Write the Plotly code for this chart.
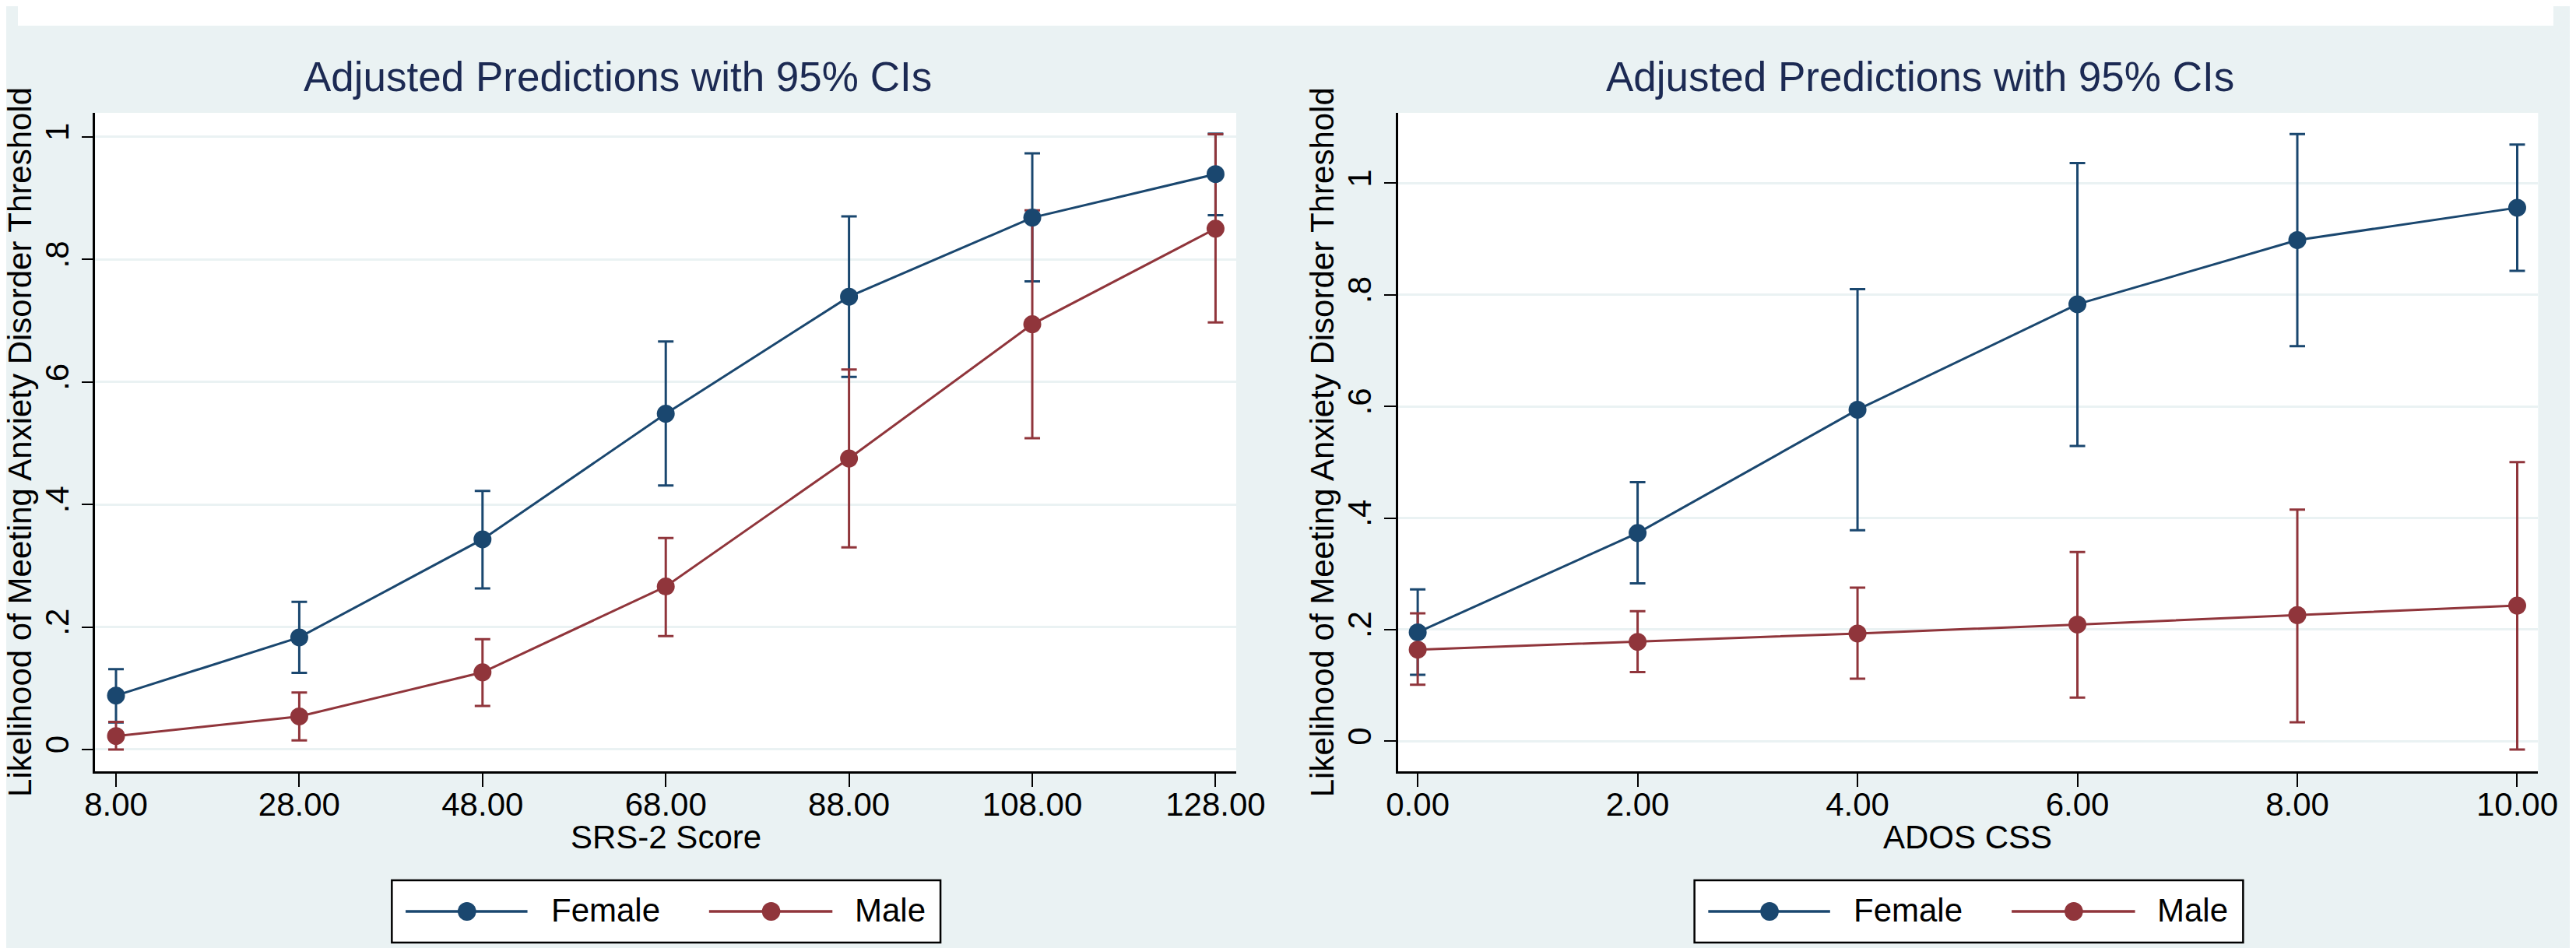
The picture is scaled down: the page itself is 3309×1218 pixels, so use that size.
import plotly.graph_objects as go

# ---------------- data ----------------
srs_x = [8, 28, 48, 68, 88, 108, 128]
srs_ticktext = ["8.00", "28.00", "48.00", "68.00", "88.00", "108.00", "128.00"]
srs_female = [0.088, 0.183, 0.343, 0.548, 0.739, 0.868, 0.939]
srs_female_lo = [0.044, 0.125, 0.263, 0.431, 0.608, 0.764, 0.872]
srs_female_hi = [0.131, 0.241, 0.422, 0.666, 0.870, 0.973, 1.005]
srs_male = [0.022, 0.054, 0.126, 0.266, 0.475, 0.694, 0.850]
srs_male_lo = [0.000, 0.015, 0.071, 0.185, 0.330, 0.508, 0.697]
srs_male_hi = [0.045, 0.093, 0.180, 0.345, 0.620, 0.880, 1.004]

ados_x = [0, 2, 4, 6, 8, 10]
ados_ticktext = ["0.00", "2.00", "4.00", "6.00", "8.00", "10.00"]
ados_female = [0.195, 0.373, 0.594, 0.783, 0.898, 0.956]
ados_female_lo = [0.119, 0.283, 0.378, 0.529, 0.708, 0.843]
ados_female_hi = [0.272, 0.464, 0.810, 1.036, 1.088, 1.069]
ados_male = [0.164, 0.178, 0.193, 0.209, 0.226, 0.243]
ados_male_lo = [0.101, 0.124, 0.112, 0.078, 0.034, -0.015]
ados_male_hi = [0.229, 0.233, 0.275, 0.339, 0.415, 0.500]

y_tickvals = [0, 0.2, 0.4, 0.6, 0.8, 1.0]
y_ticktext = ["0", ".2", ".4", ".6", ".8", "1"]

series_names = ["Female", "Male"]
title_text = "Adjusted Predictions with 95% CIs"
ytitle_text = "Likelihood of Meeting Anxiety Disorder Threshold"
xtitles = ["SRS-2 Score", "ADOS CSS"]

# ---------------- style ----------------
W, H = 3309, 1218
NAVY = "#1a476f"
MAROON = "#90353b"
BG = "#EAF2F3"
GRID = "#EAF2F3"
TITLE_C = "#1c2a53"
FONT = "Liberation Sans, Arial, Helvetica, sans-serif"


def px_x(p):
    return p / W


def px_y(p):
    return (H - p) / H


fig = go.Figure()


def add_panel(xs, groups, xa, ya):
    # error bars first (drawn beneath lines/markers)
    for vals, lo, hi, color in groups:
        fig.add_trace(go.Scatter(
            x=xs, y=vals, mode="markers", xaxis=xa, yaxis=ya,
            marker=dict(size=1, opacity=0, color=color),
            error_y=dict(type="data", symmetric=False,
                         array=[h - v for h, v in zip(hi, vals)],
                         arrayminus=[v - l for v, l in zip(vals, lo)],
                         color=color, thickness=3, width=10),
            showlegend=False, hoverinfo="skip"))
    for (vals, lo, hi, color), name in zip(groups, series_names):
        fig.add_trace(go.Scatter(
            x=xs, y=vals, mode="lines+markers", name=name, xaxis=xa, yaxis=ya,
            line=dict(color=color, width=3),
            marker=dict(size=23, color=color),
            showlegend=False))


add_panel(srs_x, [(srs_female, srs_female_lo, srs_female_hi, NAVY),
                  (srs_male, srs_male_lo, srs_male_hi, MAROON)], "x", "y")
add_panel(ados_x, [(ados_female, ados_female_lo, ados_female_hi, NAVY),
                   (ados_male, ados_male_lo, ados_male_hi, MAROON)], "x2", "y2")

ydom = [px_y(983), px_y(137)]
common_x = dict(ticks="outside", ticklen=17, tickwidth=2, tickcolor="black",
                showline=True, linewidth=2.5, linecolor="black", mirror=False,
                showgrid=False, zeroline=False, ticklabelstandoff=-13,
                tickfont=dict(size=42, color="black", family=FONT))
common_y = dict(ticks="outside", ticklen=15, tickwidth=2, tickcolor="black",
                showline=True, linewidth=2.5, linecolor="black",
                showgrid=True, gridcolor=GRID, gridwidth=3, zeroline=False,
                tickvals=y_tickvals, ticktext=y_ticktext, tickangle=-90,
                tickfont=dict(size=42, color="black", family=FONT), domain=ydom)

fig.update_layout(
    width=W, height=H, autosize=False,
    margin=dict(l=0, r=0, t=0, b=0),
    paper_bgcolor=BG, plot_bgcolor="white",
    font=dict(family=FONT, color="black"),
    showlegend=False,
    xaxis=dict(common_x, domain=[px_x(101), px_x(1590)], range=[5.74, 130.26],
               tickvals=srs_x, ticktext=srs_ticktext, anchor="y"),
    yaxis=dict(common_y, range=[-0.0356, 1.039], anchor="x"),
    xaxis2=dict(common_x, domain=[px_x(1801), px_x(3289)], range=[-0.18, 10.19],
                tickvals=ados_x, ticktext=ados_ticktext, anchor="y2"),
    yaxis2=dict(common_y, range=[-0.054, 1.126], anchor="x2"),
)

shapes = []
annotations = []

# white strip at top
shapes.append(dict(type="rect", xref="paper", yref="paper", x0=0, x1=1,
                   y0=px_y(25), y1=1, fillcolor="white", line=dict(width=0),
                   layer="below"))

# titles
for cx in (783, 2483):
    annotations.append(dict(text=title_text, xref="paper", yref="paper",
                            x=px_x(cx), y=px_y(91), xanchor="center", yanchor="middle",
                            showarrow=False, font=dict(size=53, color=TITLE_C, family=FONT)))
# y titles
for cx in (2, 1702):
    annotations.append(dict(text=ytitle_text, xref="paper", yref="paper",
                            x=px_x(cx), y=px_y(560), xanchor="center", yanchor="middle",
                            textangle=-90, showarrow=False,
                            font=dict(size=42, color="black", family=FONT)))
# x titles
for cx, t in zip((846, 2544), xtitles):
    annotations.append(dict(text=t, xref="paper", yref="paper",
                            x=px_x(cx), y=px_y(1067), xanchor="center", yanchor="middle",
                            showarrow=False, font=dict(size=42, color="black", family=FONT)))

# legends (drawn manually to reproduce Stata's long key lines)
for L in (488, 2188):
    top, bot, cy = 1123, 1203, 1163
    shapes.append(dict(type="rect", xref="paper", yref="paper",
                       x0=px_x(L), x1=px_x(L + 716), y0=px_y(bot), y1=px_y(top),
                       fillcolor="white", line=dict(color="black", width=2.5)))
    items = [(18, 177, 98, 206, NAVY, series_names[0]),
             (414, 575, 495, 602, MAROON, series_names[1])]
    for a, b, m, tx, col, name in items:
        shapes.append(dict(type="line", xref="paper", yref="paper",
                           x0=px_x(L + a), x1=px_x(L + b), y0=px_y(cy), y1=px_y(cy),
                           line=dict(color=col, width=3.5)))
        r = 12
        shapes.append(dict(type="circle", xref="paper", yref="paper",
                           x0=px_x(L + m - r), x1=px_x(L + m + r),
                           y0=px_y(cy + r), y1=px_y(cy - r),
                           fillcolor=col, line=dict(color=col, width=0)))
        annotations.append(dict(text=name, xref="paper", yref="paper",
                                x=px_x(L + tx), y=px_y(cy - 2), xanchor="left", yanchor="middle",
                                showarrow=False, font=dict(size=42, color="black", family=FONT)))

fig.update_layout(shapes=shapes, annotations=annotations)

fig.write_html("out.html")
